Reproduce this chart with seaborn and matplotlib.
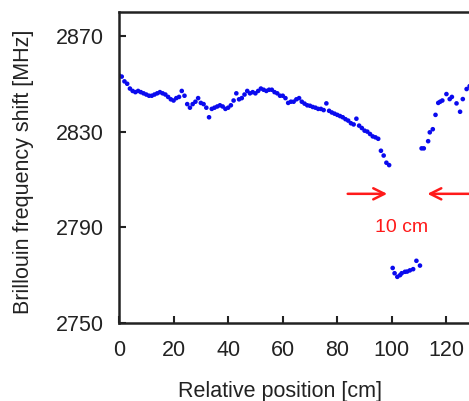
import matplotlib
matplotlib.use("Agg")
import matplotlib.pyplot as plt
import seaborn as sns
import pandas as pd

# Relative position [cm]
position = [0, 1, 2, 3, 4, 5, 6, 7, 8, 9, 10, 11, 12, 13, 14, 15, 16, 17, 18, 19,
            20, 21, 22, 23, 24, 25, 26, 27, 28, 29, 30, 31, 32, 33, 34, 35, 36, 37, 38, 39,
            40, 41, 42, 43, 44, 45, 46, 47, 48, 49, 50, 51, 52, 53, 54, 55, 56, 57, 58, 59,
            60, 61, 62, 63, 64, 65, 66, 67, 68, 69, 70, 71, 72, 73, 74, 75, 76, 77, 78, 79,
            80, 81, 82, 83, 84, 85, 86, 87, 88, 89, 90, 91, 92, 93, 94, 95, 96, 97, 98, 99,
            100.3, 101, 102, 103, 103.6, 104.8, 105.6, 106.6, 107.8, 109, 110.3,
            110.9, 111.7, 113.3, 113.9, 115, 116, 117, 117.7, 118.5, 120, 121.2, 122,
            123.7, 125, 126, 127.4, 128.5]

# Brillouin frequency shift [MHz]
shift = [2853.5, 2853, 2851, 2850, 2848, 2847, 2846.5, 2847, 2846.5, 2846,
         2845.5, 2845, 2845, 2845.5, 2846, 2846.5, 2846, 2845.5, 2844.5, 2843.5,
         2843, 2844, 2844.5, 2847, 2845, 2841.5, 2840, 2841.5, 2842.5, 2844,
         2842, 2841.5, 2840, 2836, 2839.5, 2840, 2840.5, 2841, 2840.5, 2839.5,
         2840, 2841, 2843, 2846, 2843.5, 2844, 2845.5, 2847, 2846, 2846.5,
         2846, 2847, 2848, 2847.5, 2847, 2847.5, 2847.5, 2846.5, 2846, 2845,
         2845, 2844, 2842, 2842.5, 2842.5, 2843.5, 2844, 2842.5, 2841.7, 2841,
         2840.8, 2840.3, 2840, 2839.5, 2839.5, 2839, 2841.8, 2838.7, 2838, 2837.5,
         2837, 2836.5, 2836, 2835.2, 2834.6, 2833.5, 2833, 2835.4, 2832.5, 2831.5,
         2830.4, 2830, 2829, 2828, 2827.6, 2827, 2822, 2820, 2817, 2816,
         2773, 2770.8, 2769.3, 2770, 2770.8, 2771.4, 2771.5, 2772, 2772.5, 2776, 2774,
         2823, 2823, 2826, 2829.7, 2831, 2837, 2842, 2842.5, 2843, 2845.7, 2843.6, 2844.5,
         2841.8, 2838.3, 2843.6, 2847.8, 2849]

x_ticks = [0, 20, 40, 60, 80, 100, 120]
y_ticks = [2750, 2790, 2830, 2870]
annotation_text = "10 cm"

df = pd.DataFrame({"position": position, "shift": shift})

sns.set_style("ticks")
plt.rcParams["font.family"] = ["Liberation Sans", "DejaVu Sans"]

fig = plt.figure(figsize=(4.69, 4.01), dpi=100)
ax = fig.add_axes([119 / 469, 78 / 401, 382 / 469, 311 / 401])

sns.scatterplot(data=df, x="position", y="shift", ax=ax, color="#0a0aee",
                s=11, edgecolor="none", linewidth=0)

ax.set_xlim(0, 140)
ax.set_ylim(2750, 2880)
ax.set_xticks(x_ticks)
ax.set_yticks(y_ticks)
ax.tick_params(direction="in", length=5, width=1.5, labelsize=15.5,
               colors="#222222")
ax.tick_params(axis="x", pad=12)
ax.tick_params(axis="y", pad=11)
for sp in ax.spines.values():
    sp.set_linewidth(1.8)
    sp.set_color("#222222")

ax.set_xlabel("Relative position [cm]", fontsize=15.5, color="#222222")
ax.set_ylabel("Brillouin frequency shift [MHz]", fontsize=15.5, color="#222222")
ax.xaxis.set_label_coords((280 - 119) / 382, -0.185)
ax.yaxis.set_label_coords(-0.222, 0.485)

arrow_kw = dict(arrowstyle="->,head_length=0.8,head_width=0.4", color="#ff1a1a", lw=1.8)
ax.annotate("", xy=(99.3, 2804), xytext=(82.8, 2804), arrowprops=arrow_kw)
ax.annotate("", xy=(112, 2804), xytext=(140, 2804), arrowprops=arrow_kw)
ax.text(103.7, 2790, annotation_text, color="#ff1a1a", fontsize=14,
        ha="center", va="center")

fig.savefig("out.png", dpi=100)
